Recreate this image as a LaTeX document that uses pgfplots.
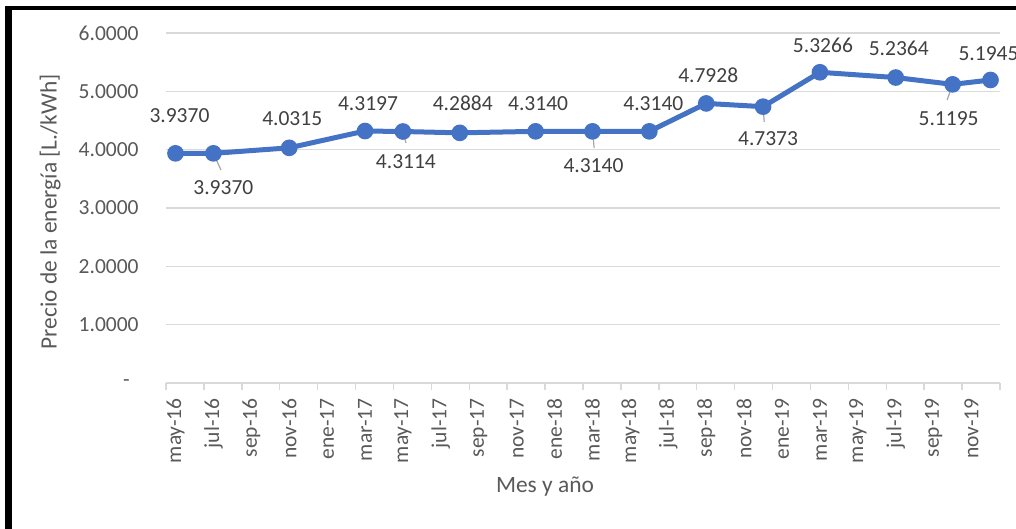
\documentclass[border=0pt]{standalone}
\usepackage{pgfplots}
\pgfplotsset{compat=1.18}
\usepackage{pgfplotstable}
\usepackage{fontspec}
\setmainfont{Carlito}
\definecolor{lineblue}{HTML}{4472C4}
\definecolor{txt}{HTML}{595959}
\definecolor{lbl}{HTML}{404040}
\definecolor{gridc}{HTML}{D9D9D9}
\definecolor{lead}{HTML}{A6A6A6}

\pgfplotstableread{
x y lbl dx dy
0 3.9370 3.9370 2 19
2 3.9370 3.9370 5 -17
6 4.0315 4.0315 1.5 14.5
10 4.3197 4.3197 1.5 13.5
12 4.3114 4.3114 1.5 -15
15 4.2884 4.2884 1.5 15
19 4.3140 4.3140 1.25 14
22 4.3140 4.3140 0.5 -17
25 4.3140 4.3140 2 14
28 4.7928 4.7928 1 14
31 4.7373 4.7373 2.5 -16
34 5.3266 5.3266 1.5 13.5
38 5.2364 5.2364 1.5 14.5
41 5.1195 5.1195 -2 -17
43 5.1945 5.1945 -1 13
}\datatable

\newcommand{\chartfont}{\fontsize{10.75}{13}\selectfont}
\newcommand{\labelfont}{\fontsize{11.7}{14}\selectfont}

\begin{document}
\begin{tikzpicture}
\useasboundingbox (0,0) rectangle (508pt,264.5pt);
\draw[line width=3.3pt] (4.2pt,0) -- (4.2pt,261.5pt);
\draw[line width=2pt] (2.55pt,260.5pt) -- (508pt,260.5pt);
\begin{axis}[
  at={(83pt,73pt)}, anchor=south west,
  scale only axis, width=417pt, height=175pt,
  xmin=-0.5, xmax=43.5, ymin=0, ymax=6,
  clip=false,
  axis x line*=bottom, axis y line*=left,
  y axis line style={draw=none},
  x axis line style={draw=gridc, line width=0.75pt},
  xtick={0,2,...,42},
  xticklabels={may-16,jul-16,sep-16,nov-16,ene-17,mar-17,may-17,jul-17,sep-17,nov-17,ene-18,mar-18,may-18,jul-18,sep-18,nov-18,ene-19,mar-19,may-19,jul-19,sep-19,nov-19},
  minor xtick={-0.5,1.5,...,43.5},
  major tick length=0pt, minor tick length=3.5pt, tick align=outside,
  minor tick style={draw=gridc, line width=0.75pt},
  ytick={0,1,2,3,4,5,6},
  yticklabels={{-\hspace*{4.5pt}},1.0000,2.0000,3.0000,4.0000,5.0000,6.0000},
  ymajorgrids, major grid style={draw=gridc, line width=0.75pt},
  tick label style={font=\chartfont, text=txt},
  xticklabel style={rotate=90, anchor=east, inner xsep=7.5pt, inner ysep=0pt},
  yticklabel style={anchor=east, inner xsep=0pt, xshift=-13.5pt},
  label style={font=\labelfont, text=txt},
  xlabel={Mes y año},
  xlabel style={at={(axis description cs:0.4544,-0.297)}, anchor=center},
  ylabel={Precio de la energía [L./kWh]},
  ylabel style={at={(axis description cs:-0.139,0.489)}, anchor=center},
]
\addplot[lead, line width=0.6pt, forget plot] coordinates {(2,3.937) (2.40,3.652)};
\addplot[lead, line width=0.6pt, forget plot] coordinates {(12,4.3114) (12.16,4.115)};
\addplot[lead, line width=0.6pt, forget plot] coordinates {(22,4.314) (22.09,4.029)};
\addplot[lead, line width=0.6pt, forget plot] coordinates {(31,4.7373) (31.06,4.475)};
\addplot[lead, line width=0.6pt, forget plot] coordinates {(41,5.1195) (40.71,4.852)};
\addplot[
  lineblue, line width=2.5pt, mark=*, mark size=2.9pt,
  mark options={fill=lineblue, draw=none},
  point meta=explicit symbolic,
  visualization depends on={\thisrow{dx} \as \dx},
  visualization depends on={\thisrow{dy} \as \dy},
  nodes near coords,
  every node near coord/.append style={anchor=center, xshift=\dx pt, yshift=\dy pt, font=\chartfont, text=lbl},
] table[x=x, y=y, meta=lbl] {\datatable};
\end{axis}
\end{tikzpicture}
\end{document}
